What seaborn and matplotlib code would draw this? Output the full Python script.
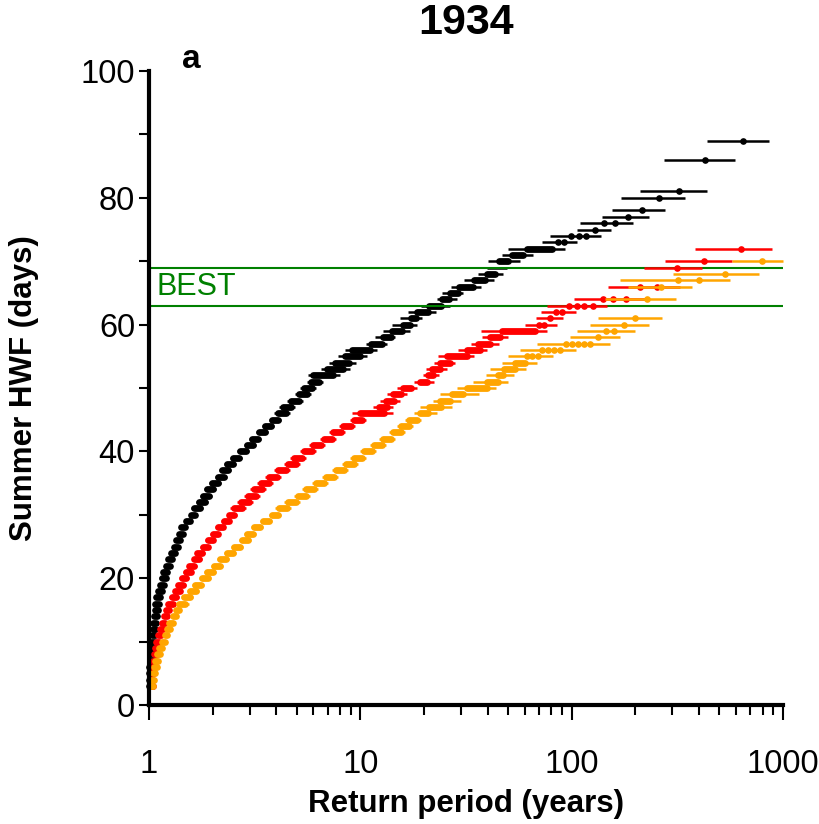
import matplotlib
matplotlib.use("Agg")
import matplotlib.pyplot as plt
import numpy as np
import pandas as pd
import seaborn as sns
from matplotlib.ticker import FixedLocator, FixedFormatter, NullFormatter

# ---------------- data (return periods in years, HWF in days) ----------------
black_levels = list(range(3, 73))
black_seg_lo = [0.995, 0.998, 1.001, 1.005, 1.008, 1.013, 1.018, 1.024, 1.031, 1.039, 1.047, 1.056, 1.065,
                1.071, 1.083, 1.103, 1.123, 1.146, 1.171, 1.203, 1.230, 1.275, 1.313, 1.346, 1.386, 1.422, 1.502, 1.586,
                1.633, 1.719, 1.801, 1.882, 1.987, 2.114, 2.215, 2.339, 2.498, 2.696, 2.909, 3.072, 3.305, 3.551, 3.820,
                4.065, 4.307, 4.699, 5.127, 5.414, 5.843, 5.972, 6.956, 7.591, 8.465, 9.135, 11.24, 12.81, 14.13, 15.92,
                17.38, 18.55, 21.14, 24.36, 26.58, 29.32, 34.52, 39.77, 44.35, 45.33, 52.23, 61.5]
black_seg_hi = [1.028, 1.031, 1.035, 1.039, 1.042, 1.047, 1.052, 1.058, 1.065, 1.073, 1.082, 1.091, 1.101,
                1.119, 1.131, 1.152, 1.173, 1.197, 1.223, 1.257, 1.285, 1.332, 1.372, 1.406, 1.448, 1.485, 1.569, 1.657,
                1.743, 1.835, 1.923, 2.009, 2.121, 2.256, 2.365, 2.497, 2.667, 2.877, 3.106, 3.279, 3.528, 3.791, 4.078,
                4.435, 4.700, 5.128, 5.595, 5.907, 6.376, 7.426, 8.282, 8.841, 9.968, 11.11, 12.67, 13.97, 15.75, 17.19,
                18.35, 20.91, 24.09, 26.29, 29.0, 34.14, 38.91, 43.39, 44.35, 49.99, 58.87, 80.76]
black_ci_lo = [0.979, 0.981, 0.985, 0.989, 0.992, 0.997, 1.002, 1.008, 1.014, 1.022, 1.030, 1.039, 1.048,
               1.048, 1.060, 1.079, 1.099, 1.121, 1.146, 1.177, 1.203, 1.247, 1.285, 1.317, 1.356, 1.391, 1.469, 1.552,
               1.580, 1.664, 1.743, 1.821, 1.923, 2.046, 2.144, 2.264, 2.418, 2.609, 2.816, 2.973, 3.199, 3.437, 3.697,
               3.891, 4.123, 4.499, 4.909, 5.183, 5.594, 5.655, 6.516, 7.110, 7.843, 8.465, 10.64, 11.74, 12.81, 14.13,
               15.41, 16.82, 19.38, 23.07, 24.36, 26.87, 30.96, 36.05, 39.77, 40.21, 46.83, 49.99]
black_ci_hi = [1.045, 1.048, 1.052, 1.056, 1.059, 1.064, 1.069, 1.076, 1.083, 1.091, 1.099, 1.109, 1.119,
               1.144, 1.156, 1.177, 1.199, 1.223, 1.250, 1.285, 1.313, 1.361, 1.402, 1.437, 1.480, 1.518, 1.603, 1.693,
               1.801, 1.896, 1.987, 2.075, 2.192, 2.332, 2.444, 2.580, 2.755, 2.973, 3.209, 3.389, 3.646, 3.917, 4.214,
               4.633, 4.909, 5.356, 5.844, 6.170, 6.660, 8.015, 8.938, 9.543, 10.76, 12.00, 13.38, 14.59, 17.19, 18.55,
               19.59, 22.82, 26.58, 28.68, 30.62, 37.25, 42.93, 47.34, 49.44, 57.0, 65.66, 93.05]
black_dot_lvl = [73, 73, 74, 74, 74, 75, 76, 76, 77, 78, 80, 81, 86, 89]
black_dot_rp = [86, 92, 99, 108, 117, 129, 143, 160, 184, 215, 258, 322, 429, 645]
black_bar_lvl = [73, 74, 75, 76, 77, 78, 80, 81, 86, 89]
black_bar_lo = [72, 79, 106, 110, 139, 156, 172, 211, 272, 436]
black_bar_hi = [106, 137, 153, 195, 232, 276, 345, 436, 591, 862]

red_levels = list(range(3, 60))
red_seg_lo = [1.009, 1.016, 1.024, 1.033, 1.042, 1.054, 1.068, 1.085, 1.105, 1.127, 1.152, 1.180, 1.210,
              1.230, 1.278, 1.327, 1.379, 1.425, 1.489, 1.550, 1.637, 1.696, 1.792, 1.892, 1.998, 2.110, 2.252, 2.397,
              2.533, 2.725, 2.931, 3.150, 3.389, 3.710, 4.079, 4.533, 4.855, 5.432, 5.953, 6.755, 7.402, 8.254, 9.365,
              9.968, 12.30, 13.23, 14.24, 15.87, 19.2, 21.0, 21.8, 23.8, 25.6, 31.9, 36.2, 41.1, 46.7]
red_seg_hi = [1.042, 1.050, 1.058, 1.068, 1.077, 1.089, 1.103, 1.121, 1.142, 1.165, 1.191, 1.219, 1.250,
              1.299, 1.349, 1.402, 1.456, 1.504, 1.572, 1.637, 1.728, 1.791, 1.892, 1.998, 2.110, 2.228, 2.378, 2.531,
              2.764, 2.974, 3.199, 3.437, 3.698, 4.048, 4.451, 4.946, 5.298, 5.927, 6.495, 7.371, 8.077, 9.007, 10.22,
              12.95, 13.42, 14.44, 15.53, 17.32, 20.6, 22.0, 23.8, 26.6, 31.9, 36.9, 41.1, 45.8, 67.1]
red_ci_lo = [0.992, 1.000, 1.008, 1.017, 1.025, 1.037, 1.050, 1.068, 1.088, 1.109, 1.134, 1.161, 1.190,
             1.197, 1.243, 1.292, 1.342, 1.386, 1.449, 1.509, 1.593, 1.651, 1.743, 1.841, 1.944, 2.053, 2.191, 2.332,
             2.425, 2.609, 2.806, 3.015, 3.244, 3.551, 3.905, 4.340, 4.648, 5.200, 5.699, 6.467, 7.086, 7.902, 8.966,
             9.135, 11.52, 12.39, 13.34, 14.87, 17.9, 19.7, 20.5, 22.4, 23.4, 29.1, 33.3, 37.8, 37.3]
red_ci_hi = [1.059, 1.067, 1.076, 1.085, 1.095, 1.107, 1.121, 1.140, 1.161, 1.184, 1.210, 1.239, 1.271,
             1.335, 1.387, 1.440, 1.496, 1.546, 1.616, 1.682, 1.776, 1.841, 1.944, 2.053, 2.168, 2.289, 2.444, 2.601,
             2.887, 3.106, 3.341, 3.590, 3.862, 4.228, 4.649, 5.166, 5.534, 6.191, 6.784, 7.699, 8.436, 9.407, 10.67,
             14.28, 14.33, 15.41, 16.58, 18.49, 22.4, 23.6, 25.6, 28.1, 34.6, 39.6, 45.4, 50.2, 76.2]
red_dot_lvl = [60, 60, 61, 62, 62, 63, 63, 63, 63, 64, 64, 64, 66, 66, 69, 70, 72]
red_dot_rp = [69.9, 74.0, 79.0, 84.4, 90.1, 97.2, 105.7, 114.9, 126.7, 140.4, 157.5, 180.3,
              210.8, 252.7, 316.4, 421.9, 633.4]
red_bar_lvl = [60, 61, 62, 63, 64, 66, 69, 70, 72]
red_bar_lo = [60.2, 67.8, 71.7, 76.2, 102.7, 148.2, 220.9, 276.7, 384.8]
red_bar_hi = [85.0, 91.3, 104.6, 146.6, 226.7, 325.8, 415.5, 572.5, 888]

orange_levels = list(range(3, 55))
orange_seg_lo = [1.013, 1.024, 1.039, 1.054, 1.070, 1.091, 1.121, 1.152, 1.184, 1.217, 1.250, 1.292, 1.349,
                 1.394, 1.469, 1.569, 1.656, 1.782, 1.882, 2.024, 2.175, 2.339, 2.533, 2.756, 2.909, 3.150, 3.464, 3.820,
                 4.137, 4.533, 5.055, 5.533, 6.171, 6.881, 7.673, 8.556, 9.365, 10.44, 11.65, 12.76, 14.24, 15.58, 17.06,
                 19.17, 21.14, 23.83, 27.16, 31.98, 39.77, 44.84, 47.86, 53.96]
orange_seg_hi = [1.047, 1.058, 1.073, 1.089, 1.105, 1.127, 1.158, 1.191, 1.223, 1.257, 1.292, 1.335, 1.394,
                 1.488, 1.568, 1.675, 1.768, 1.902, 2.009, 2.160, 2.322, 2.497, 2.704, 2.942, 3.106, 3.363, 3.698, 4.078,
                 4.514, 4.946, 5.516, 6.038, 6.734, 7.509, 8.373, 9.337, 10.22, 11.40, 12.71, 13.92, 15.53, 17.01, 18.61,
                 20.91, 24.09, 26.58, 30.62, 39.77, 44.84, 47.34, 53.96, 60.19]
orange_ci_lo = [0.997, 1.008, 1.022, 1.037, 1.053, 1.073, 1.103, 1.134, 1.165, 1.197, 1.230, 1.271, 1.328,
                1.349, 1.422, 1.518, 1.603, 1.724, 1.821, 1.959, 2.105, 2.264, 2.451, 2.667, 2.816, 3.049, 3.352, 3.697,
                3.960, 4.340, 4.839, 5.297, 5.908, 6.588, 7.346, 8.192, 8.966, 10.00, 11.15, 12.22, 13.63, 14.92, 16.33,
                17.95, 19.17, 22.08, 23.83, 28.68, 34.14, 39.34, 41.1, 46.83]
orange_ci_hi = [1.064, 1.076, 1.091, 1.107, 1.124, 1.146, 1.177, 1.210, 1.243, 1.278, 1.313, 1.357, 1.417,
                1.538, 1.621, 1.731, 1.827, 1.965, 2.075, 2.232, 2.399, 2.580, 2.794, 3.039, 3.209, 3.475, 3.821, 4.214,
                4.715, 5.166, 5.761, 6.307, 7.033, 7.843, 8.745, 9.752, 10.67, 11.90, 13.28, 14.54, 16.22, 17.76, 19.44,
                23.07, 27.16, 29.96, 36.45, 43.87, 49.99, 53.37, 60.85, 68.58]
orange_dot_lvl = [55, 55, 55, 56, 56, 56, 56, 57, 57, 57, 57, 57, 58, 59, 59, 60, 61, 64, 66, 67, 67, 68, 70]
orange_dot_rp = [61.3, 65.0, 69.3, 72.7, 77.6, 82.8, 88.4, 93.8, 100.1, 106.9, 114.1, 122.6, 132.9,
                 145, 159.3, 177, 199.5, 226.7, 265, 318.8, 400.7, 532, 799]
orange_bar_lvl = [55, 56, 57, 58, 59, 60, 61, 64, 66, 67, 68, 70]
orange_bar_lo = [50.2, 57.0, 68.8, 98.3, 106.4, 122.2, 133.8, 143.9, 184.9, 169.4, 301, 572.5]
orange_bar_hi = [81.4, 104.9, 152, 169.4, 199.5, 233, 267, 311.9, 372.6, 561.9, 770.6, 1000]

best_range = [63, 69]
best_label = "BEST"
x_ticks = [1, 10, 100, 1000]
x_tick_labels = ["1", "10", "100", "1000"]
y_ticks = [0, 20, 40, 60, 80, 100]
title = "1934"
panel = "a"
xlabel = "Return period (years)"
ylabel = "Summer HWF (days)"

# ---------------- style ----------------
sns.set_theme(style="ticks")
plt.rcParams["font.family"] = ["Liberation Sans", "DejaVu Sans"]
plt.rcParams["text.color"] = "black"
plt.rcParams["axes.labelcolor"] = "black"
plt.rcParams["xtick.color"] = "black"
plt.rcParams["ytick.color"] = "black"

fig = plt.figure(figsize=(8.2, 8.24), dpi=100)
ax = fig.add_axes([149 / 820, 119 / 824, 634 / 820, 634 / 824])

BAR_LW = 1.8
SEG_LW = 4.9
DOT_S = 4.8 ** 2

series = [
    ("black", black_levels, black_seg_lo, black_seg_hi, black_ci_lo, black_ci_hi,
     black_dot_lvl, black_dot_rp, black_bar_lvl, black_bar_lo, black_bar_hi, 3),
    ("red", red_levels, red_seg_lo, red_seg_hi, red_ci_lo, red_ci_hi,
     red_dot_lvl, red_dot_rp, red_bar_lvl, red_bar_lo, red_bar_hi, 6),
    ("orange", orange_levels, orange_seg_lo, orange_seg_hi, orange_ci_lo, orange_ci_hi,
     orange_dot_lvl, orange_dot_rp, orange_bar_lvl, orange_bar_lo, orange_bar_hi, 8),
]

for (col, lv, slo, shi, clo, chi, dl, dr, bl, blo, bhi, z) in series:
    ax.hlines(lv, clo, chi, colors=col, lw=BAR_LW, zorder=z, clip_on=False)
    ax.hlines(bl, blo, bhi, colors=col, lw=BAR_LW, zorder=z, clip_on=False)
    segs = ax.hlines(lv, slo, shi, colors=col, lw=SEG_LW, zorder=z + 1, clip_on=False)
    segs.set_capstyle("round")
    dots = pd.DataFrame({"rp": dr, "hwf": dl})
    sns.scatterplot(data=dots, x="rp", y="hwf", color=col, s=DOT_S, linewidth=0,
                    ax=ax, zorder=z + 1, clip_on=False, legend=False)

for yv in best_range:
    ax.axhline(yv, color="green", lw=1.5, zorder=5)
ax.text(1.09, 65.9, best_label, color="green", fontsize=22, ha="left", va="center", zorder=9)

ax.set_xscale("log")
ax.set_xlim(1, 1000)
ax.set_ylim(0, 100)

ax.xaxis.set_major_locator(FixedLocator(x_ticks))
ax.xaxis.set_major_formatter(FixedFormatter(x_tick_labels))
minor = [m * 10 ** k for k in range(3) for m in range(2, 10)]
ax.xaxis.set_minor_locator(FixedLocator(minor))
ax.xaxis.set_minor_formatter(NullFormatter())
ax.set_yticks(list(range(0, 101, 10)))
ax.set_yticklabels([str(v) if v in y_ticks else "" for v in range(0, 101, 10)])

for s in ["top", "right"]:
    ax.spines[s].set_visible(False)
for s in ["left", "bottom"]:
    ax.spines[s].set_linewidth(3)
    ax.spines[s].set_color("black")
    ax.spines[s].set_zorder(20)

ax.tick_params(axis="y", which="major", direction="out", length=7, width=1.5,
               labelsize=23.5, pad=3, colors="black")
ax.tick_params(axis="x", which="major", direction="out", length=11, width=1.5,
               labelsize=23.5, pad=21, colors="black")
ax.tick_params(axis="x", which="minor", direction="out", length=7, width=1.5, colors="black")
ax.set_facecolor("white")
ax.grid(False)

ax.set_xlabel(xlabel, fontsize=22.5, fontweight="bold", labelpad=6, color="black")
ax.set_ylabel(ylabel, fontsize=22.5, fontweight="bold", labelpad=30, color="black")
fig.text(466 / 820, 1 - 23 / 824, title, fontsize=31, fontweight="bold", ha="center", va="center", color="black")
fig.text(191 / 820, 1 - 60 / 824, panel, fontsize=24, fontweight="bold", ha="center", va="center", color="black")

fig.savefig("out.png", dpi=100, facecolor="white")
